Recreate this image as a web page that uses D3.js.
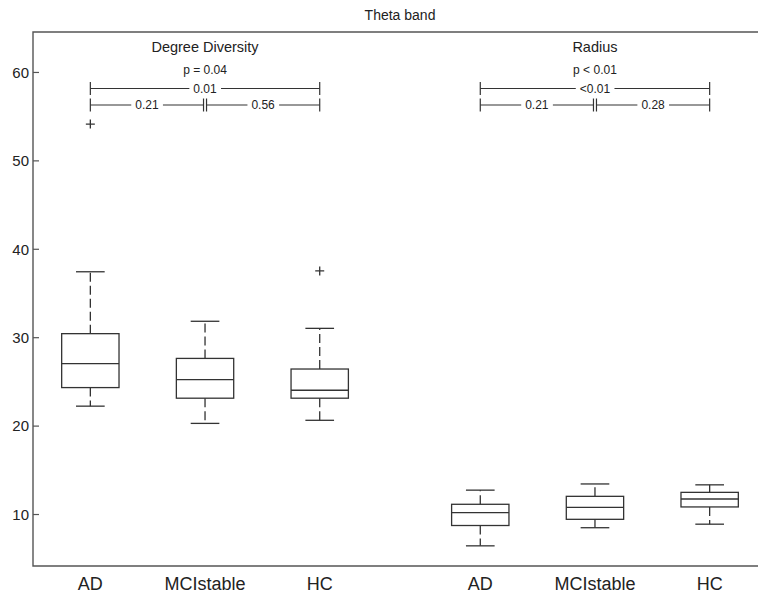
<!DOCTYPE html>
<html>
<head>
<meta charset="utf-8">
<script src="https://cdn.jsdelivr.net/npm/d3@7"></script>
<style>
  html, body { margin: 0; padding: 0; background: #fff; }
  svg { display: block; font-family: "Liberation Sans", Arial, Helvetica, sans-serif; }
</style>
</head>
<body>
<svg id="chart" width="758" height="594"></svg>
<script>
// ---- data ----
const chartTitle = "Theta band";
const groupTitles = ["Degree Diversity", "Radius"];
const categories = ["AD", "MCIstable", "HC"];
const yTicks = [10, 20, 30, 40, 50, 60];

// Degree Diversity: [lowerWhisker, Q1, median, Q3, upperWhisker]
const degreeStats = [
  [22.2, 24.3, 27.0, 30.4, 37.4],
  [20.25, 23.1, 25.2, 27.6, 31.8],
  [20.6, 23.1, 24.0, 26.4, 31.0]
];
const degreeOutliers = [[54.1], [], [37.5]];

// Radius
const radiusStats = [
  [6.4, 8.7, 10.15, 11.1, 12.7],
  [8.45, 9.4, 10.75, 12.0, 13.4],
  [8.85, 10.8, 11.7, 12.45, 13.3]
];
const radiusOutliers = [[], [], []];

// p-values: overall, AD vs HC, AD vs MCI, MCI vs HC
const degreePvals = ["p = 0.04", "0.01", "0.21", "0.56"];
const radiusPvals = ["p < 0.01", "<0.01", "0.21", "0.28"];

(function () {
  // ---- layout ----
  const mLeft = 33, mTop = 32, mBottom = 566, mRight = 767;
  const groupGap = 1.4;

  const x = d3.scaleLinear().domain([0.5, 6.9]).range([mLeft, mRight]);
  const y = d3.scaleLinear().domain([4.12, 64.52]).range([mBottom, mTop]);

  const svg = d3.select("#chart");
  const ink = "#333";

  const groups = [
    {title: groupTitles[0], stats: degreeStats, outliers: degreeOutliers, pvals: degreePvals},
    {title: groupTitles[1], stats: radiusStats, outliers: radiusOutliers, pvals: radiusPvals}
  ];

  const pos = (g, i) => 1 + i + g * (categories.length - 1 + groupGap);

  // frame
  svg.append("path")
    .attr("d", `M${mRight},${mTop}H${mLeft}V${mBottom}H${mRight}`)
    .attr("fill", "none").attr("stroke", "#555").attr("stroke-width", 1.4);

  // y axis ticks (inward)
  const yAxis = d3.axisRight(y).tickValues(yTicks).tickSize(6).tickFormat(d3.format("d"));
  const yg = svg.append("g").attr("transform", `translate(${mLeft},0)`).call(yAxis);
  yg.select(".domain").remove();
  yg.selectAll(".tick line").attr("stroke", "#555").attr("stroke-width", 1.2);
  yg.selectAll(".tick text")
    .attr("x", -4).attr("text-anchor", "end").attr("dy", "0.35em")
    .attr("fill", "#222").style("font-size", "15px");

  // title
  svg.append("text").attr("x", (mLeft + mRight) / 2).attr("y", 20)
    .attr("text-anchor", "middle").attr("fill", "#222").style("font-size", "14px")
    .text(chartTitle);

  const boxW = 0.5, capW = 0.25;

  groups.forEach((grp, g) => {
    grp.stats.forEach((s, i) => {
      const p = pos(g, i);
      const [lo, q1, med, q3, hi] = s;
      const cg = svg.append("g").attr("fill", "none").attr("stroke", ink).attr("stroke-width", 1.3);
      cg.append("line").attr("x1", x(p)).attr("x2", x(p)).attr("y1", y(q3)).attr("y2", y(hi))
        .attr("stroke-dasharray", "9,4");
      cg.append("line").attr("x1", x(p)).attr("x2", x(p)).attr("y1", y(q1)).attr("y2", y(lo))
        .attr("stroke-dasharray", "9,4");
      [lo, hi].forEach(v => cg.append("line")
        .attr("x1", x(p - capW / 2)).attr("x2", x(p + capW / 2)).attr("y1", y(v)).attr("y2", y(v)));
      cg.append("rect").attr("x", x(p - boxW / 2)).attr("y", y(q3))
        .attr("width", x(p + boxW / 2) - x(p - boxW / 2)).attr("height", y(q1) - y(q3));
      cg.append("line").attr("x1", x(p - boxW / 2)).attr("x2", x(p + boxW / 2))
        .attr("y1", y(med)).attr("y2", y(med));
      grp.outliers[i].forEach(v => {
        cg.append("path").attr("d", `M${x(p) - 4.5},${y(v)}h9M${x(p)},${y(v) - 4.5}v9`);
      });
      svg.append("text").attr("x", x(p)).attr("y", 590).attr("text-anchor", "middle")
        .attr("fill", "#222").style("font-size", "18px").text(categories[i]);
    });

    const pMid = pos(g, 1);
    svg.append("text").attr("x", x(pMid)).attr("y", 52).attr("text-anchor", "middle")
      .attr("fill", "#222").style("font-size", "14.5px").text(grp.title);
    svg.append("text").attr("x", x(pMid)).attr("y", 74).attr("text-anchor", "middle")
      .attr("fill", "#222").style("font-size", "12px").text(grp.pvals[0]);

    const bracket = (x1, x2, yy, label) => {
      const bg = svg.append("g");
      bg.append("line").attr("x1", x1).attr("x2", x2).attr("y1", yy).attr("y2", yy)
        .attr("stroke", ink).attr("stroke-width", 1.2);
      [x1, x2].forEach(xx => bg.append("line").attr("x1", xx).attr("x2", xx)
        .attr("y1", yy - 6.5).attr("y2", yy + 6.5).attr("stroke", ink).attr("stroke-width", 1.2));
      const t = bg.append("text").attr("x", (x1 + x2) / 2).attr("y", yy + 4.3)
        .attr("text-anchor", "middle").attr("fill", "#222").style("font-size", "12px").text(label);
      const bb = t.node().getBBox();
      bg.insert("rect", "text").attr("x", bb.x - 4).attr("y", yy - 3).attr("width", bb.width + 8)
        .attr("height", 6).attr("fill", "#fff");
    };
    const xa = x(pos(g, 0)), xm = x(pos(g, 1)), xh = x(pos(g, 2));
    bracket(xa, xh, 88.5, grp.pvals[1]);
    bracket(xa, xm - 1.5, 105, grp.pvals[2]);
    bracket(xm + 1.5, xh, 105, grp.pvals[3]);
  });
})();
</script>
</body>
</html>
